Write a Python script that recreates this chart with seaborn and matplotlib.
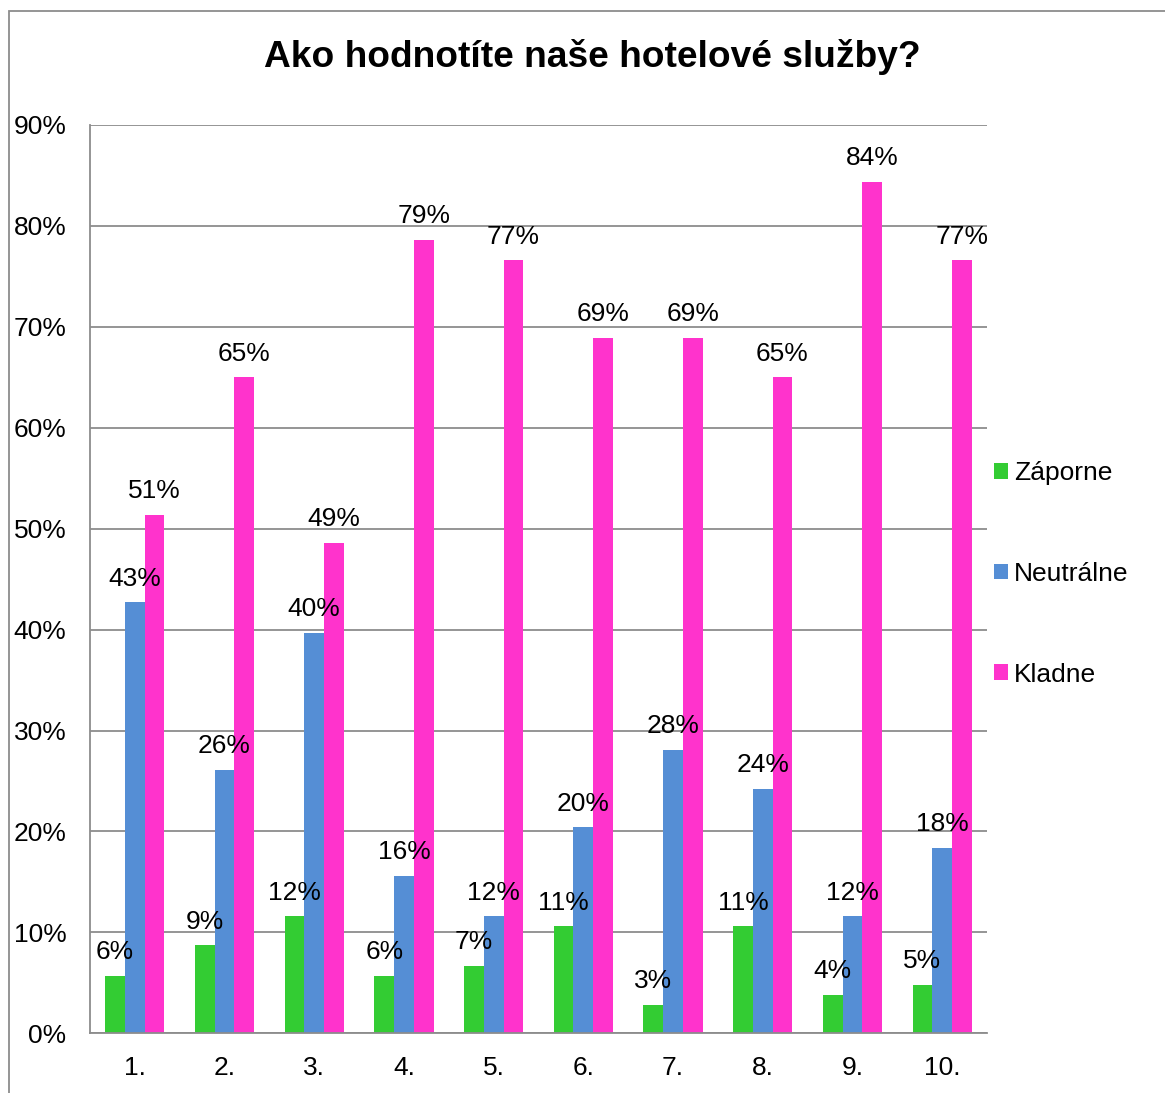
import matplotlib
matplotlib.use("Agg")
import matplotlib.pyplot as plt
from matplotlib.patches import Patch, Rectangle
import seaborn as sns
import pandas as pd

categories = ["1.", "2.", "3.", "4.", "5.", "6.", "7.", "8.", "9.", "10."]
series_names = ["Záporne", "Neutrálne", "Kladne"]
zaporne = [5.7, 8.7, 11.6, 5.7, 6.7, 10.6, 2.8, 10.6, 3.8, 4.8]
neutralne = [42.7, 26.1, 39.7, 15.6, 11.6, 20.4, 28.1, 24.2, 11.6, 18.4]
kladne = [51.4, 65.0, 48.6, 78.6, 76.6, 68.9, 68.9, 65.0, 84.4, 76.6]
y_ticks = [0, 10, 20, 30, 40, 50, 60, 70, 80, 90]
colors = ["#33CC33", "#558ED5", "#FF33CC"]
title = "Ako hodnotíte naše hotelové služby?"

sns.set_style("white")
plt.rcParams["font.family"] = ["Liberation Sans", "DejaVu Sans"]
plt.rcParams["text.color"] = "black"

rows = []
for name, vals in zip(series_names, [zaporne, neutralne, kladne]):
    for c, v in zip(categories, vals):
        rows.append({"cat": c, "series": name, "value": v})
df = pd.DataFrame(rows)

FS = 19
W, H = 1165, 1093
fig = plt.figure(figsize=(W / 100, H / 100), dpi=100)
ax = fig.add_axes([90 / W, 1 - 1033.3 / H, (987 - 90) / W, (1033.3 - 125) / H])

sns.barplot(data=df, x="cat", y="value", hue="series", order=categories,
            hue_order=series_names, palette=dict(zip(series_names, colors)),
            width=0.66, gap=0, linewidth=0, saturation=1, ax=ax, legend=False,
            errorbar=None)

ax.set_ylim(0, 90)
ax.set_xlim(-0.5, len(categories) - 0.5)
ax.set_yticks(y_ticks)
ax.set_yticklabels([f"{t}%" for t in y_ticks])
ax.set_xlabel("")
ax.set_ylabel("")
ax.yaxis.grid(True, color="#8C8C8C", linewidth=1.3)
ax.set_axisbelow(True)
for s in ["top", "right"]:
    ax.spines[s].set_visible(False)
for s in ["left", "bottom"]:
    ax.spines[s].set_color("#8C8C8C")
    ax.spines[s].set_linewidth(1.3)
ax.tick_params(axis="y", length=0, pad=17, labelsize=FS, labelcolor="black")
ax.tick_params(axis="x", length=0, pad=16.5, labelsize=FS, labelcolor="black")

for cont, vals in zip(ax.containers, [zaporne, neutralne, kladne]):
    for bar, v in zip(cont, vals):
        ax.annotate(f"{round(v)}%", (bar.get_x() + bar.get_width() / 2, bar.get_height()),
                    xytext=(0, 12), textcoords="offset points", ha="center",
                    va="baseline", fontsize=FS, color="black", annotation_clip=False)

handles = [Patch(facecolor=c, edgecolor="none", label=n) for c, n in zip(colors, series_names)]
leg = fig.legend(handles=handles, loc="center left", bbox_to_anchor=(994 / W, 1 - 574 / H),
                 frameon=False, fontsize=FS, handlelength=0.52, handleheight=0.52,
                 handletextpad=0.23, labelspacing=2.9, borderpad=0, borderaxespad=0)
for t in leg.get_texts():
    t.set_color("black")

fig.text(592.5 / W, 1 - 67 / H, title, ha="center", va="baseline",
         fontsize=26.7, fontweight="bold", color="black")

fig.patches.append(Rectangle((9 / W, -0.1), 1.2, 1 - 11 / H + 0.1, transform=fig.transFigure,
                             fill=False, edgecolor="#8C8C8C", linewidth=1.3))

fig.savefig("out.png", dpi=100)
